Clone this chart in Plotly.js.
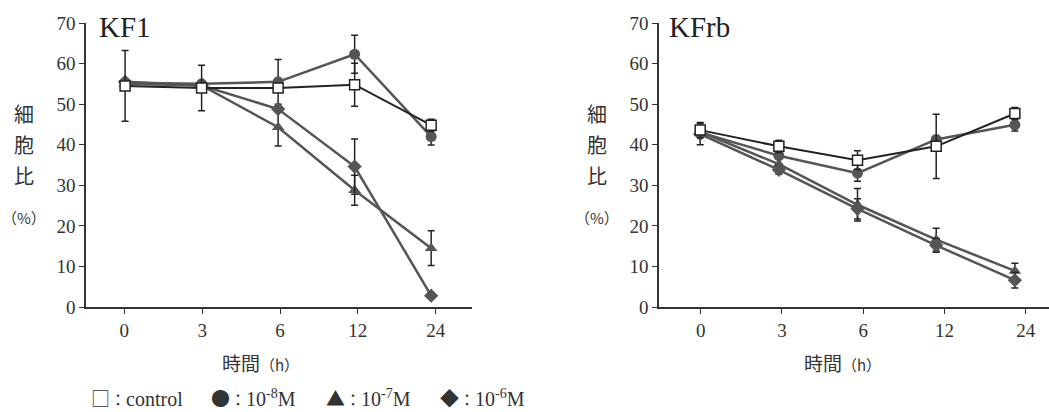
<!DOCTYPE html>
<html>
<head>
<meta charset="utf-8">
<script src="https://cdn.plot.ly/plotly-3.0.1.min.js"></script>
<style>
  html, body { margin: 0; padding: 0; background: #fff; }
  #chart { width: 1049px; height: 412px; }
</style>
</head>
<body>
<div id="chart"></div>
<script>
// Sampling times (h)
const hours = ['0', '3', '6', '12', '24'];

// KF1 cell ratio (%) and error bars
const kf1Control = [54.5, 54.0, 54.0, 54.8, 44.8];
const kf1ControlErr = [8.7, 5.6, 0, 5.3, 1.5];
const kf1Conc8 = [55.3, 55.0, 55.5, 62.3, 42.0];
const kf1Conc8Err = [0, 0, 5.5, 4.7, 2.1];
const kf1Conc7 = [55.0, 54.6, 44.3, 28.8, 14.5];
const kf1Conc7Err = [0, 0, 4.6, 3.7, 4.3];
const kf1Conc6 = [55.5, 54.6, 48.8, 34.6, 2.8];
const kf1Conc6Err = [0, 0, 0, 6.8, 0];

// KFrb cell ratio (%) and error bars
const kfrbControl = [43.6, 39.6, 36.2, 39.6, 47.7];
const kfrbControlErr = [1.9, 1.5, 2.3, 7.9, 1.5];
const kfrbConc8 = [43.0, 37.3, 33.0, 41.3, 44.9];
const kfrbConc8Err = [0, 0, 2.0, 0, 1.5];
const kfrbConc7 = [43.2, 35.2, 25.2, 16.6, 8.9];
const kfrbConc7Err = [0, 0, 4.0, 2.8, 1.9];
const kfrbConc6 = [42.6, 33.8, 24.2, 15.2, 6.6];
const kfrbConc6Err = [2.6, 1.1, 2.5, 1.7, 1.9];

// Panel names, axis text and legend entries
const panelNames = ['KF1', 'KFrb'];
const yTitleChars = ['細', '胞', '比'];
const yTitleUnit = '（%）';
const xTitleMain = '時間';
const xTitleUnit = '（h）';
const legendGlyphs = ['□', '●', '▲', '◆'];
const legendNames = ['control', '10<sup>-8</sup>M', '10<sup>-7</sup>M', '10<sup>-6</sup>M'];

const W = 1049, H = 412;
const TOP = 23, BOTTOM = 307;
const px2x = px => px / W;
const px2y = py => (BOTTOM - py) / (BOTTOM - TOP);

const INK = '#222';
const GREY = '#555';
const SERIF = "'Liberation Serif', 'Times New Roman', serif";
const CJK = "'Noto Sans CJK JP', sans-serif";

function errBar(arr) {
  return { type: 'data', array: arr, visible: true, color: INK, thickness: 1.5, width: 3.5 };
}

function panelTraces(xa, ya, ctrl, ctrlE, c8, c8E, c7, c7E, c6, c6E) {
  const base = { x: hours, xaxis: xa, yaxis: ya, mode: 'lines+markers', showlegend: false, hoverinfo: 'x+y' };
  return [
    Object.assign({}, base, { y: c8, error_y: errBar(c8E), line: { color: GREY, width: 2.5 },
      marker: { symbol: 'circle', size: 11, color: GREY } }),
    Object.assign({}, base, { y: c7, error_y: errBar(c7E), line: { color: GREY, width: 2.5 },
      marker: { symbol: 'triangle-up', size: 11, color: GREY } }),
    Object.assign({}, base, { y: c6, error_y: errBar(c6E), line: { color: GREY, width: 2.5 },
      marker: { symbol: 'diamond', size: 11, color: GREY } }),
    Object.assign({}, base, { y: ctrl, error_y: errBar(ctrlE), line: { color: INK, width: 2 },
      marker: { symbol: 'square', size: 10, color: '#fff', line: { color: INK, width: 1.5 } } })
  ];
}

// Empty carrier traces so the tick-label axes know their categories
function tickCarrier(xa, ya) {
  return { x: hours, y: hours.map(() => null), xaxis: xa, yaxis: ya, mode: 'markers',
    showlegend: false, hoverinfo: 'skip', marker: { opacity: 0 } };
}

const traces = [tickCarrier('x', 'y'), tickCarrier('x2', 'y2')].concat(
  panelTraces('x3', 'y', kf1Control, kf1ControlErr, kf1Conc8, kf1Conc8Err, kf1Conc7, kf1Conc7Err, kf1Conc6, kf1Conc6Err),
  panelTraces('x4', 'y2', kfrbControl, kfrbControlErr, kfrbConc8, kfrbConc8Err, kfrbConc7, kfrbConc7Err, kfrbConc6, kfrbConc6Err)
);

const tickFont = { family: SERIF, size: 19, color: '#333' };
const leftDomain = [86.3 / W, 471.7 / W];
const rightDomain = [659.3 / W, 1];

function visX(domain, range, anchor) {
  return {
    domain: domain, anchor: anchor, type: 'category', categoryorder: 'array', categoryarray: hours,
    range: range, showline: true, linecolor: '#333', linewidth: 2, ticks: 'outside', ticklen: 5,
    tickcolor: '#333', tickwidth: 1, tickfont: tickFont, showgrid: false, zeroline: false, fixedrange: true
  };
}
function dataX(domain, range, anchor) {
  return {
    domain: domain, anchor: anchor, type: 'category', categoryorder: 'array', categoryarray: hours,
    range: range, visible: false, showgrid: false, zeroline: false, fixedrange: true
  };
}
function yAx(anchor) {
  return {
    domain: [0, 1], anchor: anchor, range: [0, 70], dtick: 10, showline: true, linecolor: '#333',
    linewidth: 2, ticks: 'outside', ticklen: 5, tickcolor: '#333', tickwidth: 1, tickfont: tickFont,
    showgrid: false, zeroline: false, fixedrange: true
  };
}

const annotations = [];
const common = { xref: 'paper', yref: 'paper', showarrow: false };

// Panel names
[[97, panelNames[0]], [667, panelNames[1]]].forEach(([px, t]) => {
  annotations.push(Object.assign({}, common, { x: px2x(px), y: px2y(27), xanchor: 'left', yanchor: 'middle',
    text: t, font: { family: SERIF, size: 29, color: '#222' } }));
});

// Vertical y titles
[24, 597].forEach(cx => {
  [113, 144, 175].forEach((py, i) => {
    annotations.push(Object.assign({}, common, { x: px2x(cx), y: px2y(py), xanchor: 'center', yanchor: 'middle',
      text: yTitleChars[i], font: { family: CJK, size: 20, color: '#333' } }));
  });
  annotations.push(Object.assign({}, common, { x: px2x(cx), y: px2y(217), xanchor: 'center', yanchor: 'middle',
    text: yTitleUnit, font: { family: CJK, size: 15, color: '#333' } }));
});

// x titles
[260, 842].forEach(cx => {
  annotations.push(Object.assign({}, common, { x: px2x(cx), y: px2y(362), xanchor: 'center', yanchor: 'middle',
    text: xTitleMain + '<span style="font-size:15px">' + xTitleUnit + '</span>',
    font: { family: CJK, size: 19, color: '#333' } }));
});

// Legend line, one entry at a time
[90, 210, 325, 439].forEach((px, i) => {
  annotations.push(Object.assign({}, common, { x: px2x(px), y: px2y(397), xanchor: 'left', yanchor: 'middle',
    borderpad: 0,
    text: '<span style="font-family:\'Noto Sans CJK JP\';font-size:19px">' + legendGlyphs[i] + '</span>' +
      '<span style="font-family:\'Noto Sans CJK JP\';font-size:16px">：</span>' + legendNames[i],
    font: { family: SERIF, size: 20, color: '#333' } }));
});

const layout = {
  width: W, height: H,
  margin: { l: 0, r: 0, t: TOP, b: H - BOTTOM, pad: 0 },
  paper_bgcolor: '#fff', plot_bgcolor: 'rgba(0,0,0,0)',
  showlegend: false,
  xaxis: visX(leftDomain, [-0.488, 4.462], 'y'),
  xaxis2: visX(rightDomain, [-0.51, 4.287], 'y2'),
  xaxis3: dataX(leftDomain, [-0.507, 4.53], 'y'),
  xaxis4: dataX(rightDomain, [-0.52, 4.434], 'y2'),
  yaxis: yAx('x'),
  yaxis2: yAx('x2'),
  annotations: annotations
};

Plotly.newPlot('chart', traces, layout, { displayModeBar: false, staticPlot: true });
</script>
</body>
</html>
